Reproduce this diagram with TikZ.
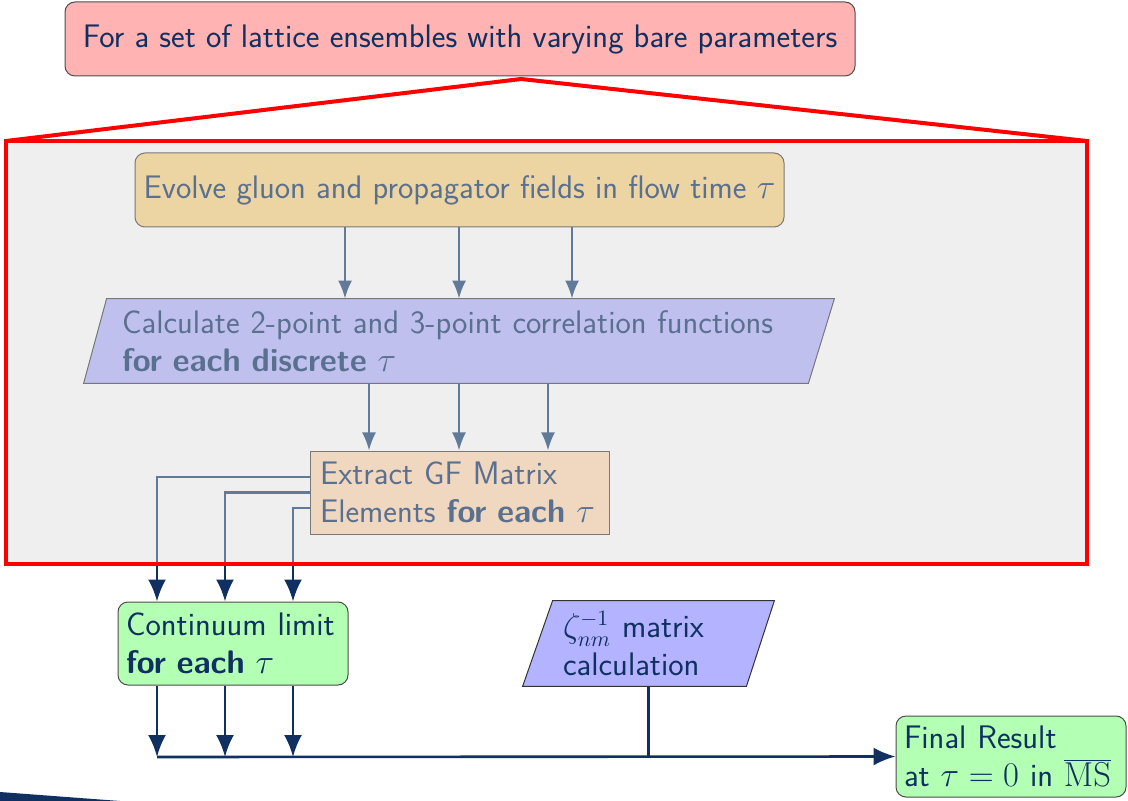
\documentclass[tikz,border=0pt]{standalone}
\usetikzlibrary{arrows.meta,calc}
\pgfdeclarelayer{background}
\pgfsetlayers{background,main}
\definecolor{navy}{RGB}{15,48,96}
\definecolor{fadetext}{RGB}{90,112,144}
\definecolor{fadeline}{RGB}{98,122,154}
\definecolor{boxgray}{RGB}{239,239,239}
\definecolor{fieldfill}{RGB}{237,213,163}
\definecolor{calcfill}{RGB}{192,192,238}
\definecolor{extfill}{RGB}{240,216,192}
\definecolor{fadeborder}{RGB}{120,120,120}
\definecolor{pinkfill}{RGB}{255,179,179}
\definecolor{greenfill}{RGB}{179,255,179}
\definecolor{bluefill}{RGB}{179,179,255}
\begin{document}
\begin{tikzpicture}[x=0.5pt,y=-0.5pt,
 every node/.style={font=\sffamily\fontsize{16.3}{19}\selectfont},
 outerbox/.style={draw=black!70, line width=0.5pt, text=navy},
 innerbox/.style={draw=fadeborder, line width=0.5pt, text=fadetext},
 fadearrow/.style={draw=fadeline, line width=1.1pt, -{Latex[length=9pt,width=7pt]}},
 fadelinestyle/.style={draw=fadeline, line width=1.4pt},
 darkarrow/.style={draw=navy, line width=1.3pt, -{Latex[length=11pt,width=9pt]}},
 darkline/.style={draw=navy, line width=1.3pt},
 redline/.style={draw=red, line width=2pt},
]
\useasboundingbox (0,0) rectangle (1128,801);

% frame corners
\coordinate (ftl) at (6,141);
\coordinate (fbr) at (1087,564);
\coordinate (ftr) at (1087,141);
\coordinate (apex) at (521,79);

% nodes inside frame
\node[innerbox, fill=fieldfill, rounded corners=5pt, minimum width=324.5pt, minimum height=37pt] (fields) at (459.5,190) {Evolve gluon and propagator fields in flow time $\tau$};

\node[text=fadetext, text width=337pt, align=left, inner xsep=19pt, inner ysep=0pt, minimum height=42pt] (calc) at (459,341) {Calculate 2-point and 3-point correlation functions\\\textbf{for each discrete} $\tau$};

\node[innerbox, fill=extfill, text width=139.5pt, align=left, inner xsep=5pt, minimum height=41.5pt] (extract) at (459.5,492.5) {Extract GF Matrix\\Elements \textbf{for each} $\tau$};

% nodes outside frame
\node[outerbox, fill=pinkfill, rounded corners=5pt, minimum width=395pt, minimum height=37pt] (ens) at (460,39) {For a set of lattice ensembles with varying bare parameters};

\node[outerbox, fill=greenfill, rounded corners=5pt, text width=107pt, align=left, inner xsep=4pt, minimum height=41.5pt] (cont) at (233,643.5) {Continuum limit\\\textbf{for each} $\tau$};

\node[text=navy, text width=85.5pt, align=left, inner xsep=20pt, inner ysep=0pt, minimum height=42.5pt] (zeta) at (648.5,643.5) {$\zeta_{nm}^{-1}$ matrix\\calculation};

\node[outerbox, fill=greenfill, rounded corners=5pt, text width=107pt, align=left, inner xsep=4pt, minimum height=40.5pt] (final) at (1011,756.5) {Final Result\\at $\tau=0$ in $\overline{\mathrm{MS}}$};

% backgrounds
\begin{pgfonlayer}{background}
\fill[boxgray] (ftl) rectangle (fbr);
\filldraw[fill=calcfill, draw=fadeborder, line width=0.5pt] (calc.south west) -- ($(calc.north west)+(23,0)$) -- (calc.north east) -- ($(calc.south east)+(-26,0)$) -- cycle;
\filldraw[fill=bluefill, draw=black!80, line width=0.5pt] (zeta.south west) -- ($(zeta.north west)+(30,0)$) -- (zeta.north east) -- ($(zeta.south east)+(-28,0)$) -- cycle;
\end{pgfonlayer}

% fields -> calc
\draw[fadearrow] ($(fields.south)+(-114.5,0)$) -- ($(calc.north)+(-114,0)$);
\draw[fadearrow] ($(fields.south)+(-0.5,0)$) -- ($(calc.north)+(0,0)$);
\draw[fadearrow] ($(fields.south)+(112.5,0)$) -- ($(calc.north)+(113,0)$);

% calc -> extract
\draw[fadearrow] ($(calc.south)+(-90,0)$) -- ($(extract.north)+(-90.5,0)$);
\draw[fadearrow] ($(calc.south)+(0,0)$) -- ($(extract.north)+(-0.5,0)$);
\draw[fadearrow] ($(calc.south)+(89,0)$) -- ($(extract.north)+(88.5,0)$);

% extract -> continuum
\draw[darkarrow] ($(extract.west)+(0,-15.5)$) -| ($(cont.north)+(-76,0)$);
\draw[darkarrow] ($(extract.west)+(0,0)$) -| ($(cont.north)+(-8,0)$);
\draw[darkarrow] ($(extract.west)+(0,15.5)$) -| ($(cont.north)+(60,0)$);
\begin{scope}
\clip (ftl) rectangle (fbr);
\draw[fadelinestyle] ($(extract.west)+(0,-15.5)$) -| ($(cont.north)+(-76,0)$);
\draw[fadelinestyle] ($(extract.west)+(0,0)$) -| ($(cont.north)+(-8,0)$);
\draw[fadelinestyle] ($(extract.west)+(0,15.5)$) -| ($(cont.north)+(60,0)$);
\end{scope}

% red frame and trapezoid
\draw[redline] (ftl) -- (apex) -- (ftr);
\draw[redline] (ftl) rectangle (fbr);

% continuum -> junction -> final
\coordinate (j1) at (157,757);
\coordinate (j2) at (225,757);
\coordinate (j3) at (293,757);
\draw[darkarrow] ($(cont.south)+(-76,0)$) -- (j1);
\draw[darkarrow] ($(cont.south)+(-8,0)$) -- (j2);
\draw[darkarrow] ($(cont.south)+(60,0)$) -- (j3);
\draw[darkarrow] (j1) -- (final.west);
\draw[darkline] (zeta.south) -- (zeta.south |- final.west);

% corner decoration
\fill[navy] (0,792) -- (120,801) -- (0,801) -- cycle;
\end{tikzpicture}
\end{document}
